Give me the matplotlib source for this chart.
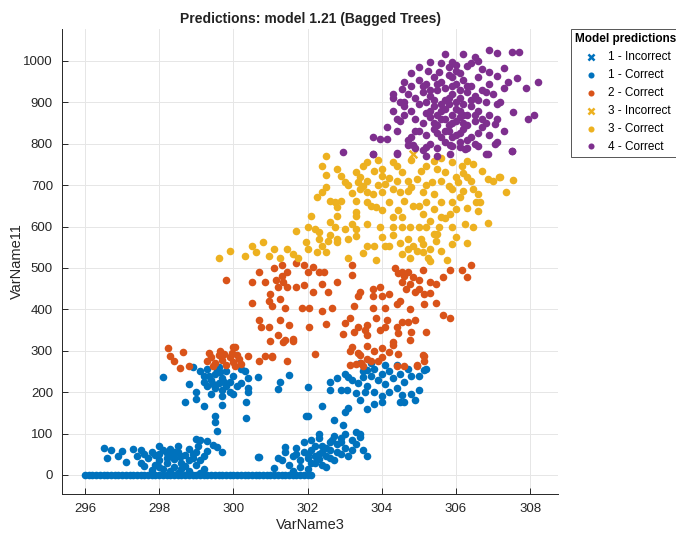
import numpy as np
import matplotlib
matplotlib.use("Agg")
import matplotlib.pyplot as plt
from matplotlib.lines import Line2D

# values (VarName3, VarName11)
base_x = [296.0, 296.1, 296.2, 296.3, 296.4, 296.5, 296.6, 296.7, 296.8, 296.9,
          297.0, 297.1, 297.2, 297.3, 297.4, 297.5, 297.6, 297.7, 297.8, 297.9,
          298.0, 298.1, 298.2, 298.3, 298.4, 298.5, 298.6, 298.7, 298.8, 298.9,
          299.0, 299.1, 299.2, 299.3, 299.4, 299.5, 299.6, 299.7, 299.8, 299.9,
          300.0, 300.1, 300.2, 300.3, 300.4, 300.5, 300.6, 300.7, 300.8, 300.9,
          301.0, 301.1, 301.2, 301.3, 301.4, 301.5, 301.6, 301.7, 301.8, 301.9,
          302.0, 302.1]

class1_ok = [
    (296.5, 65), (296.7, 60), (297.0, 58), (297.3, 63), (297.5, 60), (296.6, 42),
    (296.9, 45), (297.1, 32), (297.5, 30), (297.7, 40), (297.8, 55), (297.9, 48),
    (298.0, 35), (298.1, 60), (298.2, 52), (298.3, 45), (298.4, 38), (298.5, 70),
    (298.5, 55), (298.6, 30), (298.7, 48), (298.8, 62), (298.9, 40), (299.0, 55),
    (299.1, 35), (297.6, 50), (298.0, 70), (298.2, 30), (298.4, 20), (298.6, 15),
    (298.8, 10), (299.0, 25), (299.2, 15), (298.3, 62), (297.9, 25), (298.1, 15),
    (298.7, 22), (298.5, 5), (299.1, 5),
    (297.6, 22), (297.8, 12), (298.0, 50), (298.2, 42), (298.4, 55), (298.6, 45),
    (298.8, 35), (298.0, 20), (297.4, 45), (298.9, 50), (299.2, 45), (298.3, 10),
    (299.0, 87), (299.1, 85), (299.3, 82), (299.45, 72), (299.55, 68), (299.7, 56),
    (299.3, 58), (299.05, 70), (300.65, 43),
    (299.5, 143), (299.5, 128), (299.55, 106), (299.7, 170), (299.7, 190),
    (299.2, 166), (299.0, 184), (298.7, 177), (298.8, 220), (298.1, 237),
    (299.1, 250), (299.2, 240), (299.3, 255), (299.4, 230), (299.5, 245),
    (299.6, 260), (299.7, 235), (299.8, 250), (299.9, 225), (300.0, 240),
    (299.3, 215), (299.5, 210), (299.7, 205), (299.9, 200), (299.4, 195),
    (300.1, 215), (299.2, 225), (299.6, 222), (299.8, 215), (300.0, 195),
    (299.0, 200), (298.9, 260), (300.2, 255),
    (299.35, 240), (299.65, 248), (299.45, 220), (299.75, 225), (299.55, 255),
    (300.2, 222), (300.3, 250), (300.4, 235), (300.4, 210), (300.4, 200),
    (300.35, 177), (300.35, 138), (300.65, 237), (301.25, 225), (301.2, 208),
    (301.5, 242), (302.0, 213), (301.95, 143),
    (301.4, 55), (301.6, 45), (301.7, 65), (301.8, 35), (301.9, 55), (302.0, 40),
    (302.1, 60), (302.2, 30), (302.3, 50), (302.4, 70), (302.5, 45), (302.6, 60),
    (302.7, 35), (302.8, 75), (302.9, 50), (303.0, 65), (301.5, 25), (301.8, 20),
    (302.0, 15), (302.2, 70), (302.4, 25), (302.6, 80), (302.8, 55), (303.1, 45),
    (303.2, 85), (303.3, 75), (303.5, 60), (303.6, 45), (301.3, 35), (302.3, 90),
    (302.1, 85), (301.9, 80), (302.7, 95), (303.0, 100), (303.4, 100), (301.6, 10),
    (302.5, 20), (301.4, 68), (301.2, 41), (300.7, 43), (301.1, 17),
    (302.0, 50), (302.2, 45), (302.4, 55), (302.6, 40), (302.1, 30), (302.5, 65),
    (302.9, 80), (303.2, 60), (301.7, 50), (302.3, 38),
    (302.0, 143), (302.4, 167), (302.3, 99), (302.7, 133), (302.65, 85),
    (302.95, 121), (302.9, 90), (303.0, 152), (303.1, 162), (303.3, 104),
    (303.4, 92), (302.6, 225), (302.6, 206), (302.8, 235), (302.9, 206),
    (303.05, 206), (303.1, 237), (303.35, 223), (303.3, 199), (303.4, 182),
    (303.6, 160), (303.55, 201), (303.5, 237), (303.6, 254),
    (303.5, 250), (303.7, 240), (303.8, 255), (303.9, 230), (304.0, 245),
    (304.1, 220), (304.2, 250), (304.3, 235), (304.4, 210), (304.5, 245),
    (303.6, 215), (303.8, 200), (304.0, 190), (304.2, 200), (304.6, 225),
    (304.7, 255), (304.8, 240), (303.4, 270), (303.7, 270), (304.1, 265),
    (304.4, 265), (305.0, 240), (305.2, 255), (304.8, 195), (305.0, 205),
    (304.9, 180), (304.5, 175), (303.8, 172), (303.2, 230), (303.0, 245),
    (305.15, 254), (304.0, 177), (304.55, 194), (304.6, 177),
]
class1_bad = [(298.5, 40)]

class2_ok = [
    (298.25, 307), (298.3, 288), (298.4, 276), (298.65, 298), (298.55, 259),
    (298.8, 262), (299.3, 274), (299.4, 285), (299.5, 270), (299.6, 290),
    (299.7, 278), (299.8, 265), (299.9, 285), (300.0, 272), (300.1, 290),
    (300.2, 268), (299.45, 262), (299.75, 292), (300.05, 262), (300.0, 310),
    (299.35, 295), (299.65, 300), (299.95, 295), (300.15, 280),
    (300.4, 288), (300.7, 274), (300.85, 288), (301.05, 288), (301.45, 274),
    (301.0, 324), (301.35, 322), (301.6, 324), (299.8, 470),
    (300.7, 489), (300.5, 465), (300.85, 467), (301.1, 501), (301.3, 508),
    (301.45, 489), (301.35, 467), (301.2, 455), (301.45, 455), (301.7, 513),
    (301.9, 508), (302.0, 489), (302.15, 503), (302.3, 491), (302.45, 489),
    (301.7, 455), (301.9, 458), (302.15, 441), (302.4, 462), (302.55, 443),
    (301.0, 436), (300.95, 419), (301.25, 424), (301.4, 402), (301.05, 409),
    (300.5, 416), (301.85, 404), (302.05, 404), (302.4, 397), (302.65, 402),
    (300.7, 375), (301.25, 375), (300.75, 358), (300.95, 358), (301.5, 363),
    (302.05, 358), (302.5, 365), (301.2, 339), (301.4, 327), (301.6, 329),
    (301.05, 286), (300.05, 310), (302.2, 293), (301.3, 480), (301.15, 470),
    (302.8, 465), (303.2, 484), (303.2, 508), (303.35, 433), (303.4, 441),
    (303.25, 409), (303.15, 380), (303.0, 368), (303.35, 358), (303.6, 363),
    (302.95, 341), (303.25, 346), (303.55, 351), (303.75, 448), (303.95, 455),
    (303.75, 431), (304.0, 431), (304.2, 436), (303.75, 404), (304.1, 402),
    (304.4, 412), (304.5, 421), (303.85, 380), (304.15, 375), (304.4, 358),
    (304.55, 370), (304.7, 370), (303.95, 351), (304.1, 358), (304.45, 344),
    (304.8, 346), (304.9, 375), (303.2, 310), (303.15, 300), (303.4, 290),
    (303.6, 280), (303.8, 300), (304.0, 285), (303.3, 268), (303.5, 262),
    (304.3, 320), (304.2, 298), (304.45, 293), (304.6, 262), (304.95, 264),
    (305.15, 288), (304.35, 501), (304.45, 487), (304.55, 491), (304.7, 489),
    (304.85, 479), (305.0, 472), (305.1, 496), (304.55, 467), (304.75, 460),
    (304.9, 443), (305.0, 450), (305.15, 436), (305.3, 465), (305.45, 460),
    (305.65, 477), (305.85, 494), (306.15, 496), (306.3, 479), (306.4, 508),
    (305.65, 387), (305.85, 378), (305.45, 416), (305.15, 412), (305.2, 346),
    (304.75, 400), (305.1, 290), (305.15, 274), (304.95, 266), (304.4, 262),
    (304.75, 327), (304.3, 315), (304.0, 307), (303.35, 295), (303.15, 266),
    (303.45, 271), (303.7, 274), (303.9, 274), (303.6, 312), (303.6, 339),
    (304.6, 480), (304.65, 448), (305.3, 440),
]

class3_ok = [
    (299.6, 525), (299.9, 540), (300.3, 528), (300.5, 552), (300.8, 562),
    (300.6, 538), (300.95, 528), (301.25, 525), (301.45, 545), (301.6, 533),
    (301.75, 525), (301.95, 562), (302.0, 545), (302.25, 538), (302.4, 552),
    (302.5, 538), (302.2, 593), (302.3, 586), (302.55, 564), (302.75, 598),
    (302.8, 562), (303.0, 593), (303.1, 569), (303.3, 576), (303.3, 593),
    (302.8, 625), (303.3, 634), (302.75, 659), (302.9, 661), (303.3, 661),
    (303.6, 659), (303.7, 649), (303.85, 646), (303.6, 683), (303.75, 678),
    (304.0, 683), (304.3, 690), (304.5, 683), (304.6, 661), (304.7, 685),
    (302.5, 695), (302.4, 745), (302.5, 770), (302.8, 738), (302.9, 722),
    (303.0, 707), (303.3, 731), (303.35, 707), (303.4, 719), (303.5, 697),
    (303.6, 755), (303.8, 734), (304.0, 722), (304.1, 702), (304.2, 717),
    (304.3, 755), (304.4, 745), (304.55, 731), (304.7, 709), (304.95, 714),
    (305.05, 734), (305.2, 745), (305.4, 758), (305.5, 738), (305.7, 731),
    (305.9, 755), (306.15, 745), (306.3, 758), (306.45, 750), (305.35, 707),
    (305.1, 683), (305.4, 678), (305.8, 697), (305.9, 690), (306.05, 707),
    (306.2, 685), (306.45, 690), (306.6, 678), (306.1, 671), (305.9, 659),
    (306.0, 642), (305.85, 630), (305.6, 622), (305.4, 642), (305.2, 659),
    (305.1, 630), (304.85, 649), (305.3, 613), (305.55, 598), (305.9, 598),
    (306.25, 605), (306.55, 659), (306.6, 637), (306.85, 714), (307.15, 719),
    (307.55, 712), (307.35, 683), (306.85, 608), (306.45, 600), (307.0, 709),
    (307.2, 719), (306.65, 659), (304.55, 622), (304.55, 598), (304.3, 622),
    (304.3, 598), (304.75, 598), (304.7, 569), (305.05, 569), (305.4, 581),
    (305.45, 564), (305.3, 545), (305.1, 538), (304.85, 552), (304.7, 545),
    (304.55, 533), (304.75, 525), (305.25, 525), (304.2, 552), (304.1, 552),
    (303.8, 552), (303.6, 605), (303.3, 625), (303.6, 552), (302.8, 569),
    (302.1, 625), (302.8, 646), (302.6, 661), (302.5, 724), (302.4, 683),
    (302.25, 671), (303.6, 709), (303.85, 520), (303.1, 525), (303.5, 535),
    (304.95, 540), (305.3, 516), (305.5, 581), (305.9, 557), (305.1, 557),
    (305.6, 540), (305.75, 520), (306.0, 575), (306.3, 560), (305.0, 600),
    (304.0, 640), (304.2, 660), (303.95, 600), (304.0, 575), (302.6, 610),
    (303.1, 700), (303.9, 760), (304.8, 760), (305.6, 765), (306.3, 720),
    (306.7, 735), (304.45, 640), (302.0, 600), (301.7, 590),
    (303.2, 680), (303.4, 690), (303.9, 700), (304.4, 710), (304.8, 695),
    (305.2, 700), (305.6, 710), (306.0, 720), (306.4, 710), (306.2, 730),
    (304.0, 740), (303.5, 745), (305.0, 650), (305.6, 660), (306.3, 645),
    (304.3, 580), (304.5, 560), (305.2, 600), (305.7, 620), (303.2, 605),
    (302.6, 580), (301.1, 545), (302.3, 570),
]
class3_bad = [(304.85, 775)]

class4_ok = [
    (306.9, 1027), (307.1, 1019), (307.5, 1022), (307.7, 1022), (308.2, 949),
    (307.9, 935), (308.1, 869), (307.95, 860), (307.5, 782), (307.05, 847),
    (307.55, 877), (307.65, 959), (307.3, 983), (307.1, 964), (307.1, 896),
    (306.8, 775), (306.6, 794), (305.3, 998), (305.7, 1017), (306.2, 1017),
    (306.5, 1010), (305.9, 998), (306.3, 988), (305.25, 976), (305.55, 973),
    (306.0, 976), (306.7, 981), (306.9, 973), (304.3, 920), (304.55, 932),
    (304.3, 910), (304.6, 901), (304.3, 879), (304.15, 840), (303.75, 816),
    (303.95, 811), (304.15, 811), (303.75, 775), (304.4, 775), (304.8, 816),
    (304.85, 796), (305.2, 770), (305.5, 770), (305.85, 775), (306.25, 787),
    (307.1, 804),
    (304.6, 950), (304.8, 940), (305.0, 955), (305.2, 945), (305.4, 960),
    (305.6, 950), (305.8, 965), (306.0, 945), (306.2, 955), (306.4, 940),
    (306.6, 960), (304.7, 920), (304.9, 910), (305.1, 925), (305.3, 915),
    (305.5, 930), (305.7, 905), (305.9, 920), (306.1, 910), (306.3, 925),
    (306.5, 915), (306.7, 930), (304.6, 890), (304.8, 880), (305.0, 895),
    (305.2, 875), (305.4, 890), (305.6, 880), (305.8, 895), (306.0, 885),
    (306.2, 870), (306.4, 890), (306.6, 880), (306.8, 900), (304.9, 860),
    (305.1, 850), (305.3, 865), (305.5, 845), (305.7, 860), (305.9, 850),
    (306.1, 865), (306.3, 845), (306.5, 855), (306.7, 840), (305.0, 830),
    (305.2, 820), (305.4, 835), (305.6, 815), (305.8, 830), (306.0, 820),
    (306.2, 835), (306.4, 815), (306.6, 825), (305.3, 800), (305.5, 790),
    (305.7, 805), (305.9, 795), (306.1, 805), (306.3, 790), (306.5, 800),
    (304.5, 855), (304.4, 830), (304.7, 810), (304.9, 790), (305.1, 785),
    (306.0, 990), (305.8, 985), (306.4, 995), (306.6, 1000), (305.6, 995),
    (305.0, 985), (304.8, 970), (306.9, 945), (307.0, 920), (306.9, 870),
    (307.2, 900), (307.3, 935), (307.4, 950), (307.1, 860), (307.3, 830),
    (306.9, 820), (306.8, 850),
    (305.1, 940), (305.3, 930), (305.5, 945), (305.7, 935), (305.9, 940),
    (306.1, 930), (306.3, 940), (305.2, 900), (305.4, 905), (305.6, 895),
    (305.8, 910), (306.0, 900), (306.2, 895), (306.4, 905), (305.3, 880),
    (305.5, 870), (305.7, 885), (305.9, 870), (306.1, 880), (306.3, 870),
    (305.4, 850), (305.6, 860), (305.8, 845), (306.0, 855), (306.2, 850),
    (305.5, 825), (305.7, 830), (305.9, 815), (306.1, 825), (306.3, 810),
    (304.9, 830), (304.6, 870), (304.5, 900), (304.4, 860), (306.6, 905),
    (306.8, 925), (306.5, 870), (306.7, 860), (305.9, 960), (306.1, 970),
    (302.95, 780), (303.75, 775), (304.4, 777), (304.7, 797), (305.2, 792),
    (305.85, 797), (306.1, 792), (306.85, 775), (307.05, 799), (307.5, 782),
]

blue = "#0072BD"
orange = "#D95319"
yellow = "#EDB120"
purple = "#7E2F8E"

plt.rcParams['font.family'] = ['Liberation Sans', 'DejaVu Sans']

fig = plt.figure(figsize=(6.76, 5.33), dpi=100)
ax = fig.add_axes([62/676, 1 - 494/533, (558 - 62)/676, (494 - 29)/533])

c1 = np.array(class1_ok)
c1b = np.array(class1_bad)
c2 = np.array(class2_ok)
c3 = np.array(class3_ok)
c3b = np.array(class3_bad)
c4 = np.array(class4_ok)
ms = 30

h1b = ax.scatter(c1b[:, 0], c1b[:, 1], s=ms, marker='x', color=blue, linewidths=1.8)
ax.scatter(base_x, np.zeros(len(base_x)), s=ms, color=blue, linewidths=0)
h1 = ax.scatter(c1[:, 0], c1[:, 1], s=ms, color=blue, linewidths=0)
h2 = ax.scatter(c2[:, 0], c2[:, 1], s=ms, color=orange, linewidths=0)
h3b = ax.scatter(c3b[:, 0], c3b[:, 1], s=ms, marker='x', color=yellow, linewidths=1.8)
h3 = ax.scatter(c3[:, 0], c3[:, 1], s=ms, color=yellow, linewidths=0)
h4 = ax.scatter(c4[:, 0], c4[:, 1], s=ms, color=purple, linewidths=0)

ax.set_xlim(295.38, 308.75)
ax.set_ylim(-46, 1077)
ax.set_xticks([296, 298, 300, 302, 304, 306, 308])
ax.set_yticks(range(0, 1001, 100))
ax.grid(True, color='#e6e6e6', linewidth=0.7)
ax.set_axisbelow(True)
for s in ['top', 'right']:
    ax.spines[s].set_visible(False)
for s in ['left', 'bottom']:
    ax.spines[s].set_color('#262626')
    ax.spines[s].set_linewidth(0.7)
ax.tick_params(direction='in', length=4, width=0.7, colors='#262626', labelsize=9.5, pad=6.5)
ax.set_xlabel('VarName3', fontsize=10.5, color='#262626', labelpad=2)
ax.set_ylabel('VarName11', fontsize=10.5, color='#262626')
ax.yaxis.set_label_coords(-0.077, 0.5)
ax.set_title('Predictions: model 1.21 (Bagged Trees)', fontsize=10, fontweight='bold',
             color='#222222', pad=4)

leg = fig.legend([h1b, h1, h2, h3b, h3, h4],
                 ['1 - Incorrect', '1 - Correct', '2 - Correct', '3 - Incorrect',
                  '3 - Correct', '4 - Correct'],
                 loc='upper left', bbox_to_anchor=(571/676, 1 - 29/533),
                 title='Model predictions', fontsize=8.5,
                 title_fontproperties={'weight': 'bold', 'size': 8.5},
                 fancybox=False, edgecolor='#555555', framealpha=1, borderpad=0.35,
                 labelspacing=0.5, handletextpad=0.5, handlelength=1.8, borderaxespad=0,
                 markerscale=0.8)
leg.get_frame().set_linewidth(0.7)

fig.canvas.draw()
lb = leg.get_window_extent()
tb = leg.get_title().get_window_extent()
ly = (tb.y0 - 2) / fig.bbox.height
fig.add_artist(Line2D([lb.x0 / fig.bbox.width, lb.x1 / fig.bbox.width], [ly, ly],
                      transform=fig.transFigure, color='#555555', linewidth=0.7))

fig.savefig('out.png', dpi=100)
